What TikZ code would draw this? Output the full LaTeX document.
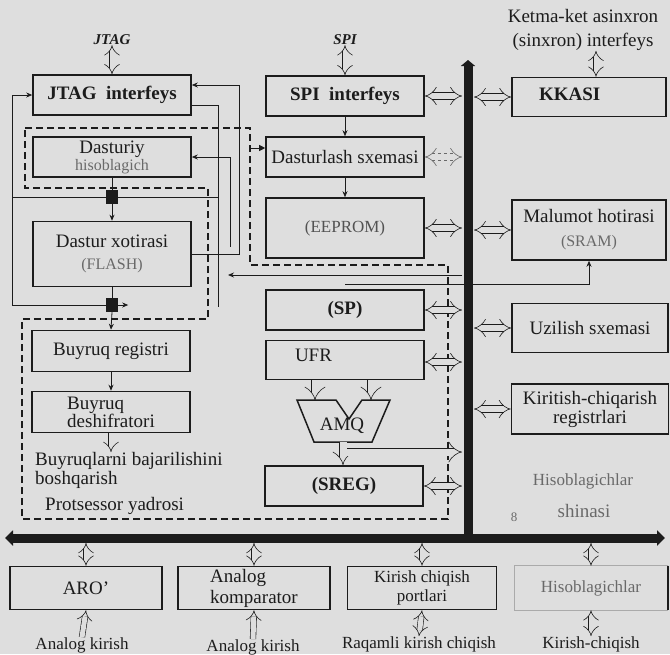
\documentclass[tikz,border=0pt]{standalone}
\usepackage{fontspec}
\setmainfont{Liberation Serif}
\usetikzlibrary{arrows.meta,calc}
\definecolor{bg}{RGB}{222,222,222}
\definecolor{ink}{RGB}{28,28,28}
\definecolor{faint}{RGB}{105,105,105}
\definecolor{pale}{RGB}{170,170,170}
\newcommand{\fmain}{\fontsize{19}{19}\selectfont}
\newcommand{\fsmall}{\fontsize{16}{17}\selectfont}
\begin{document}
\begin{tikzpicture}[x=1pt,y=-1pt,
  box/.style={draw=ink, line width=1.6pt, minimum width=158pt, minimum height=40pt, inner sep=1pt, align=center, font=\fmain, text=ink},
  wire/.style={draw=ink, line width=0.8pt},
  arr/.style={-{Stealth[length=6pt,width=5pt]}},
  rarr/.style={{Stealth[length=6pt,width=5pt]}-},
  dbl/.style={draw=ink, line width=0.6pt, double=bg, double distance=5pt, {Implies}-{Implies}},
  hdbl/.style={dbl, double distance=6pt},
  dblend/.style={draw=ink, line width=0.6pt, double=bg, double distance=5pt, -{Implies}},
  dsh/.style={draw=ink, line width=1.5pt, dash pattern=on 7pt off 4pt},
  bus/.style={draw=ink, line width=9pt},
  lbl/.style={font=\fmain, text=ink, inner sep=0pt},
  mux/.style={fill=ink, minimum width=12pt, minimum height=14pt, inner sep=0pt},
]
\fill[bg] (0,0) rectangle (670,654);
\useasboundingbox (0,0) rectangle (670,654);

% bus reference coordinates
\coordinate (vbL) at (462,0);
\coordinate (vbR) at (474,0);
\coordinate (hbB) at (0,543);
\coordinate (lloop) at (12,0);
\coordinate (jv) at (218,0);

% ---------- left column ----------
\node[box, font=\fmain\bfseries] (jtag) at (112,95) {JTAG\ \ interfeys};
\node[box, font=\fontsize{19}{17}\selectfont] (pc) at (112,157) {Dasturiy\\{\fsmall\color{faint}hisoblagich}};
\node[box, minimum height=65pt, font=\fontsize{19}{22}\selectfont] (flash) at (112,254) {Dastur xotirasi\\{\fsmall\color{faint}(FLASH)}};
\node[box, minimum height=41pt] (ir) at (111,351) {Buyruq registri};
\node[box, minimum height=41pt, align=left, font=\fontsize{19}{18}\selectfont] (dec) at (111,412) {Buyruq\\deshifratori};
\node[mux] (mux1) at (112,197) {};
\node[mux] (mux2) at (112,305) {};

% ---------- middle column ----------
\node[box, font=\fmain\bfseries] (spi) at (345,96) {SPI\ \ interfeys};
\node[box] (prog) at (345,157) {Dasturlash sxemasi};
\node[box, minimum height=60pt, font=\fontsize{17}{18}\selectfont, text=faint!70!ink] (eeprom) at (345,228) {(EEPROM)};
\node[box, font=\fmain\bfseries] (sp) at (345,310) {(SP)};
\node[box, minimum height=39pt, align=left, text width=100pt, inner xsep=29pt, text depth=9pt] (ufr) at (345,360) {UFR};
\node[box, font=\fmain\bfseries] (sreg) at (344,486) {(SREG)};
\draw[ink, line width=1.5pt] (297,400) -- (336,400) -- (349,419) -- (362,400) -- (390,400) -- (372,442) -- (314,442) -- cycle;
\node[lbl] (amq) at (342,426) {AMQ};
\coordinate (amqb) at (343,442);
\coordinate (amqout) at (347,452);

% ---------- right column ----------
\node[box, minimum width=154pt, minimum height=39pt, font=\fmain\bfseries, align=left, text width=100pt, inner xsep=27pt, text depth=6pt] (kkasi) at (589,97) {KKASI};
\node[box, minimum width=154pt, minimum height=60pt, font=\fontsize{19}{24}\selectfont] (sram) at (589,230) {Malumot hotirasi\\{\fsmall\color{faint}(SRAM)}};
\node[box, minimum width=156pt, minimum height=49pt] (uzl) at (590,328) {Uzilish sxemasi};
\node[box, minimum width=157pt, minimum height=50pt, font=\fontsize{19}{19}\selectfont] (kcr) at (590,409) {Kiritish-chiqarish\\registrlari};

% ---------- bottom row ----------
\node[box, minimum width=152pt, minimum height=43pt] (aro) at (86,588) {ARO'};
\node[box, minimum width=152pt, minimum height=43pt, align=left, font=\fontsize{19}{21}\selectfont] (komp) at (254,588) {Analog\\komparator};
\node[box, minimum width=149pt, minimum height=43pt, font=\fontsize{17}{19}\selectfont] (ports) at (422,588) {Kirish chiqish\\portlari};
\node[box, minimum width=152pt, minimum height=43pt, draw=none, font=\fontsize{17}{19}\selectfont, text=faint] (cnt) at (591,588) {Hisoblagichlar};
\draw[line width=1pt, pale] (cnt.north east) -- (cnt.north west) -- (cnt.south west) -- (cnt.south east);
\draw[line width=1.6pt, ink] (cnt.north east) -- (cnt.south east);

% ---------- free texts ----------
\node[inner sep=0pt, text=ink, font=\fontsize{15}{15}\selectfont\bfseries\itshape] (jtaglbl) at (112,40) {JTAG};
\node[inner sep=0pt, text=ink, font=\fontsize{15}{15}\selectfont\bfseries\itshape] (spilbl) at (345,40) {SPI};
\node[lbl, align=center, font=\fontsize{19}{24}\selectfont] (serlbl) at (583,30) {Ketma-ket asinxron\\(sinxron) interfeys};
\node[lbl, anchor=north west, align=left, font=\fontsize{19}{19}\selectfont] (ctrl) at (35,452) {Buyruqlarni bajarilishini\\boshqarish};
\node[lbl, anchor=west] (core) at (45,506) {Protsessor yadrosi};
\node[lbl, text=faint, font=\fontsize{17}{17}\selectfont] (cbus1) at (583,481) {Hisoblagichlar};
\node[lbl, text=faint] (cbus2) at (584,511) {shinasi};
\node[lbl, text=faint, font=\fontsize{13}{13}\selectfont] (eight) at (514,517) {8};
\node[lbl, font=\fontsize{17}{17}\selectfont] (in1) at (82,645) {Analog kirish};
\node[lbl, font=\fontsize{17}{17}\selectfont] (in2) at (253,647) {Analog kirish};
\node[lbl, font=\fontsize{17}{17}\selectfont] (in3) at (419,644) {Raqamli kirish chiqish};
\node[lbl, font=\fontsize{17}{17}\selectfont] (in4) at (591,644) {Kirish-chiqish};

% ---------- dashed processor core outline ----------
\draw[dsh] (25,128) -- (250,128) -- (250,265) -- (448,265) -- (448,519) -- (22,519) -- (22,319) -- (208,319) -- (208,188) -- (25,188) -- cycle;

% ---------- buses ----------
\draw[bus, -{Triangle[length=6pt,width=14pt]}] (468,538) -- (468,60);
\draw[bus, {Triangle[length=8pt,width=15pt]}-{Triangle[length=8pt,width=15pt]}] (5,538) -- (665,538);

% ---------- thin wires ----------
\draw[wire, rarr] ($(jtag.east)+(0,-10)$) -| (239,254) -- (flash.east);
\draw[wire] ($(jtag.east)+(0,10)$) -| (218,307);
\draw[wire] (mux1.west -| lloop) -- (mux1.west);
\draw[wire] (mux1.east) -- (mux1.east -| jv);
\draw[wire, arr] (mux2.west) -| (lloop |- jtag.west) -- (jtag.west);
\draw[wire, arr] (mux2.east) -- ++(10,0);
\draw[wire] (pc.south) -- (mux1.north);
\draw[wire, arr] (mux1.south) -- (flash.north);
\draw[wire] (flash.south) -- (mux2.north);
\draw[wire, arr] (mux2.south) -- (ir.north);
\draw[wire, arr] (ir.south) -- (dec.north);
\draw[dblend] (dec.south) -- (dec.south |- ctrl.north);
\coordinate (pcv) at (230,247);
\draw[wire, rarr] (pc.east) -| (pcv);
\coordinate (dbus) at (228,275);
\draw[wire, arr] (vbL |- dbus) -- (dbus);
\coordinate (spa) at (345,284);
\draw[wire, arr] (spa) -| (sram.south);
\coordinate (dpa) at (250,148);
\draw[wire, -{Triangle[length=6pt,width=6pt]}] (dpa) -- (dpa -| prog.west);
\draw[wire, arr] (spi.south) -- (prog.north);
\draw[wire, arr] (prog.south) -- (eeprom.north);

% ---------- ALU buses ----------
\draw[dblend, double distance=7pt] ($(ufr.south)+(-30,0)$) -- ++(0,20);
\draw[dblend, double distance=7pt] ($(ufr.south)+(26,0)$) -- ++(0,20);
\draw[dblend, double distance=7pt] (amqb) -- (amqb |- sreg.north);
\draw[dblend, double distance=7pt] (amqout) -- (vbL |- amqout);

% ---------- bus connectors ----------
\draw[hdbl] (spi.east) -- (vbL |- spi.east);
\draw[hdbl, draw=faint, dash pattern=on 3pt off 3pt] (prog.east) -- (vbL |- prog.east);
\draw[hdbl] (eeprom.east) -- (vbL |- eeprom.east);
\draw[hdbl] (sp.east) -- (vbL |- sp.east);
\draw[hdbl] ($(ufr.east)+(0,2)$) -- (vbL |- {$(ufr.east)+(0,2)$});
\draw[hdbl] (sreg.east) -- (vbL |- sreg.east);
\draw[hdbl] (vbR |- kkasi.west) -- (kkasi.west);
\draw[hdbl] (vbR |- sram.west) -- (sram.west);
\draw[hdbl] (vbR |- uzl.west) -- (uzl.west);
\draw[hdbl] (vbR |- kcr.west) -- (kcr.west);

% ---------- external connectors ----------
\draw[dbl] (jtaglbl.south) -- (jtag.north);
\draw[dbl] (spilbl.south) -- (spi.north);
\draw[dbl] ($(serlbl.south)+(13,0)$) -- ($(kkasi.north)+(7,0)$);
\draw[dbl] (aro.north |- hbB) -- (aro.north);
\draw[dbl] (komp.north |- hbB) -- (komp.north);
\draw[dbl] (ports.north |- hbB) -- (ports.north);
\draw[dbl] (cnt.north |- hbB) -- (cnt.north);
\draw[dblend] (in1.north) -- (aro.south);
\draw[dblend] (in2.north) -- (komp.south);
\draw[dbl] (in3.north) -- (ports.south);
\draw[dbl] (in4.north) -- (cnt.south);
\end{tikzpicture}
\end{document}
